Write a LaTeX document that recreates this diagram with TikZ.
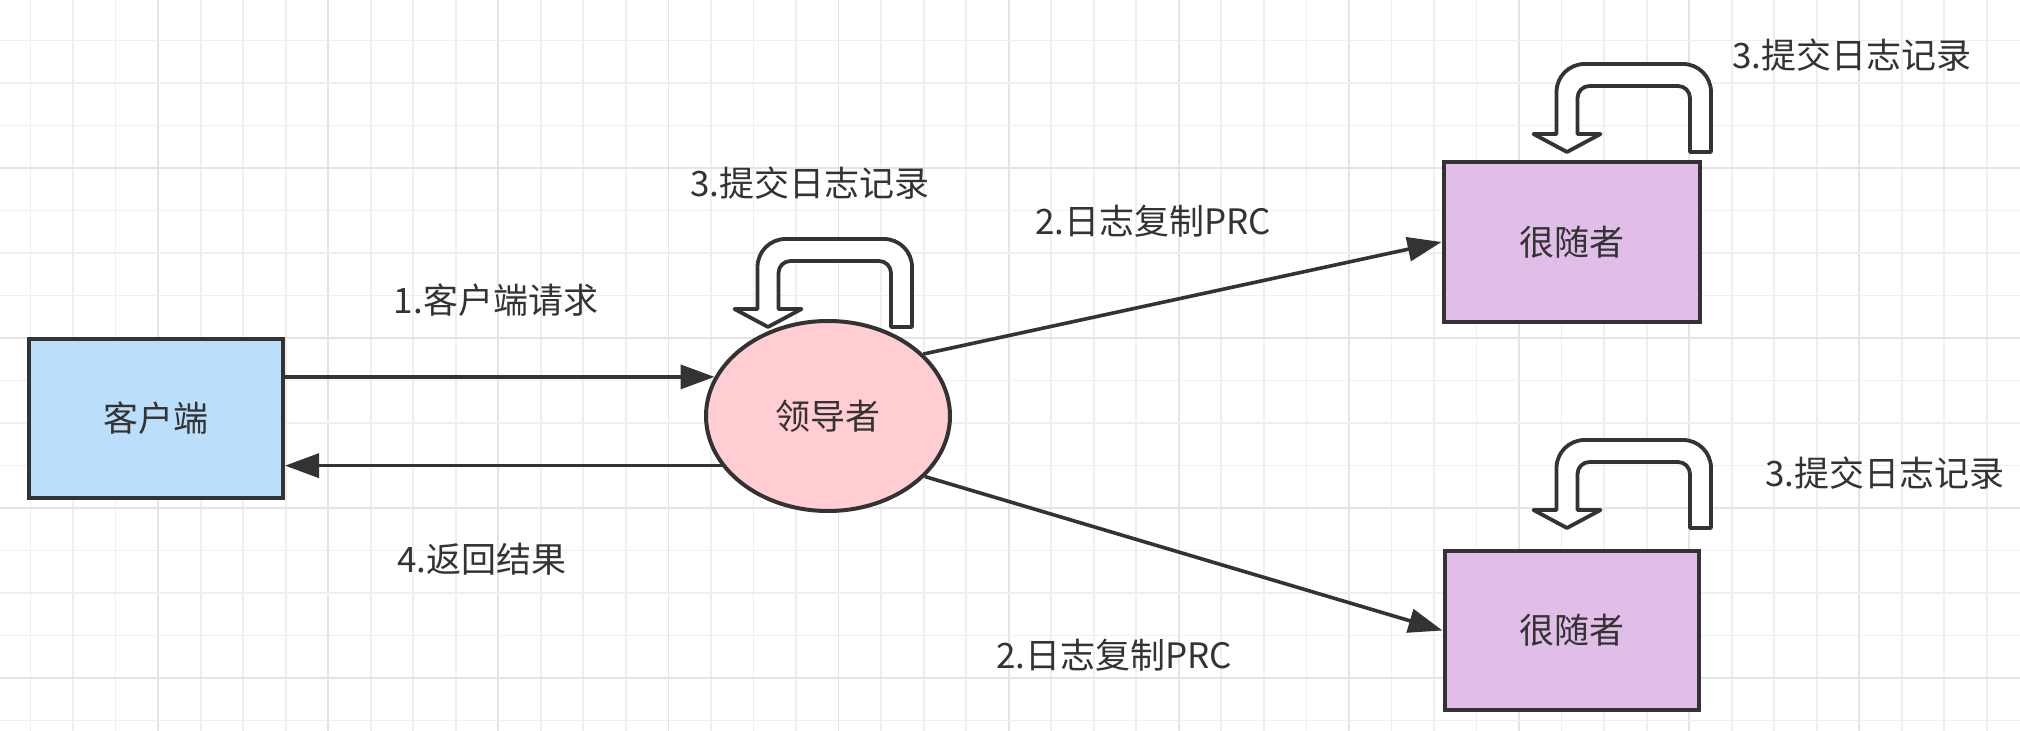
\documentclass[tikz,border=0pt]{standalone}
\usepackage{fontspec}
\setmainfont{Noto Sans CJK SC}
\usetikzlibrary{arrows.meta,shapes.geometric}
\definecolor{gridlight}{RGB}{239,239,239}
\definecolor{griddark}{RGB}{228,228,228}
\definecolor{ink}{RGB}{51,51,51}
\definecolor{clientfill}{RGB}{187,222,251}
\definecolor{leaderfill}{RGB}{255,205,210}
\definecolor{followfill}{RGB}{225,190,231}
\tikzset{
  uturn/.pic={
    \draw[draw=ink, line width=1.9pt, fill=white, line join=round]
      (123,0) -- (144,0) [rounded corners=14pt] -- (144,-88) -- (-10.5,-88)
      [sharp corners] -- (-10.5,-18) -- (-33.5,-18) -- (0,0) -- (33.5,-18) -- (10.5,-18)
      [rounded corners=6pt] -- (10.5,-66) -- (123,-66) [sharp corners] -- cycle;
  }
}
\begin{document}
\begin{tikzpicture}[x=0.5pt,y=-0.5pt,
  txt/.style={text=ink, font=\fontsize{17.5}{20}\selectfont, inner sep=0pt},
  rectbox/.style={txt, draw=ink, line width=2pt, minimum width=127pt, minimum height=79.5pt},
  ovalbox/.style={txt, ellipse, draw=ink, line width=2pt, fill=leaderfill, minimum width=122pt, minimum height=95pt},
  conn/.style={draw=ink, line width=1.8pt, -{Triangle[length=17pt,width=12pt]}},
  gl/.style={draw=gridlight, line width=0.9pt},
  gd/.style={draw=griddark, line width=0.9pt}]
\useasboundingbox (0,0) rectangle (2020,731);
\fill[white] (0,0) rectangle (2020,731);
% grid
\foreach \k in {0,...,46} {
  \pgfmathsetmacro\gx{30.5+42.53*\k}
  \pgfmathtruncatemacro\m{mod(\k,4)}
  \ifnum\m=3 \draw[gd] (\gx,0) -- (\gx,731); \else \draw[gl] (\gx,0) -- (\gx,731); \fi
}
\foreach \k in {1,...,17} {
  \pgfmathsetmacro\gy{-2+42.5*\k}
  \pgfmathtruncatemacro\m{mod(\k,4)}
  \ifnum\m=0 \draw[gd] (0,\gy) -- (2020,\gy); \else \draw[gl] (0,\gy) -- (2020,\gy); \fi
}
% nodes
\node[rectbox, fill=clientfill] (client) at (156,418.5) {客户端};
\node[ovalbox] (leader) at (828,416) {领导者};
\node[rectbox, fill=followfill, minimum width=128pt, minimum height=80pt] (f1) at (1571.5,242) {很随者};
\node[rectbox, fill=followfill, minimum width=127pt, minimum height=79.5pt] (f2) at (1571.5,630.5) {很随者};
% self loops
\pic at (768,327) {uturn};
\pic at (1567,152) {uturn};
\pic at (1567,528) {uturn};
% connectors
\draw[conn] (client.east |- leader.161) -- (leader.161);
\draw[conn] (leader.205) -- (client.east |- leader.205);
\draw[conn] (leader.33) -- (f1.west);
\draw[conn] (leader.328) -- (f2.west);
% labels
\node[txt] (t1) at (496,300) {1.客户端请求};
\node[txt] (t4) at (482,559) {4.返回结果};
\node[txt] (t2a) at (1153,221) {2.日志复制PRC};
\node[txt] (t2b) at (1114,655) {2.日志复制PRC};
\node[txt] (t3a) at (1852,55) {3.提交日志记录};
\node[txt] (t3b) at (810,183) {3.提交日志记录};
\node[txt] (t3c) at (1885,473) {3.提交日志记录};
\end{tikzpicture}
\end{document}
